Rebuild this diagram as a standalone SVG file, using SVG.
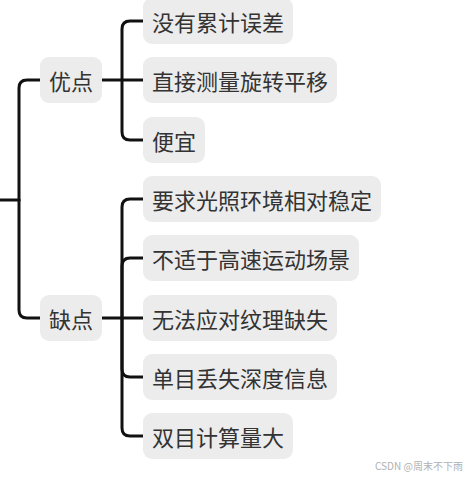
<svg xmlns="http://www.w3.org/2000/svg" width="464" height="477" viewBox="0 0 464 477">
<style>
.box{fill:#ececec;}
.t{font-family:"Noto Sans CJK SC","Noto Sans",sans-serif;font-size:22px;fill:#333333;text-anchor:middle;dominant-baseline:central;}
.c{fill:none;stroke:#111111;stroke-width:3;stroke-linecap:round;stroke-linejoin:round;}
.wm{font-family:"Noto Sans CJK SC","Noto Sans",sans-serif;font-size:10px;fill:#b0b0b0;}
</style>
<rect width="464" height="477" fill="#ffffff"/>
<g id="connectors">
<path class="c" d="M0,200 H19"/>
<path class="c" d="M19,200 V88 Q19,80 27,80 H40"/>
<path class="c" d="M19,200 V310 Q19,318 27,318 H40"/>
<path class="c" d="M102,80 H143"/>
<path class="c" d="M122,80 V29 Q122,21 130,21 H143"/>
<path class="c" d="M122,80 V132 Q122,140 130,140 H143"/>
<path class="c" d="M102,318 H143"/>
<path class="c" d="M122,318 V207 Q122,199 130,199 H143"/>
<path class="c" d="M122,318 V266 Q122,258 130,258 H143"/>
<path class="c" d="M122,318 V369 Q122,377 130,377 H143"/>
<path class="c" d="M122,318 V428 Q122,436 130,436 H143"/>
</g>
<g id="n-youdian"><rect class="box" x="40" y="57" width="62" height="46" rx="9"/><text class="t" x="71" y="80">优点</text></g>
<g id="n-quedian"><rect class="box" x="40" y="295" width="62" height="46" rx="9"/><text class="t" x="71" y="318">缺点</text></g>
<g id="n-a1"><rect class="box" x="143" y="-2" width="150" height="46" rx="9"/><text class="t" x="218" y="21">没有累计误差</text></g>
<g id="n-a2"><rect class="box" x="143" y="57" width="194" height="46" rx="9"/><text class="t" x="240" y="80">直接测量旋转平移</text></g>
<g id="n-a3"><rect class="box" x="143" y="117" width="62" height="46" rx="9"/><text class="t" x="174" y="140">便宜</text></g>
<g id="n-b1"><rect class="box" x="143" y="176" width="238" height="46" rx="9"/><text class="t" x="262" y="199">要求光照环境相对稳定</text></g>
<g id="n-b2"><rect class="box" x="143" y="235" width="216" height="46" rx="9"/><text class="t" x="251" y="258">不适于高速运动场景</text></g>
<g id="n-b3"><rect class="box" x="143" y="295" width="194" height="46" rx="9"/><text class="t" x="240" y="318">无法应对纹理缺失</text></g>
<g id="n-b4"><rect class="box" x="143" y="354" width="194" height="46" rx="9"/><text class="t" x="240" y="377">单目丢失深度信息</text></g>
<g id="n-b5"><rect class="box" x="143" y="413" width="150" height="46" rx="9"/><text class="t" x="218" y="436">双目计算量大</text></g>
<text class="wm" x="375" y="470">CSDN @周末不下雨</text>
</svg>
